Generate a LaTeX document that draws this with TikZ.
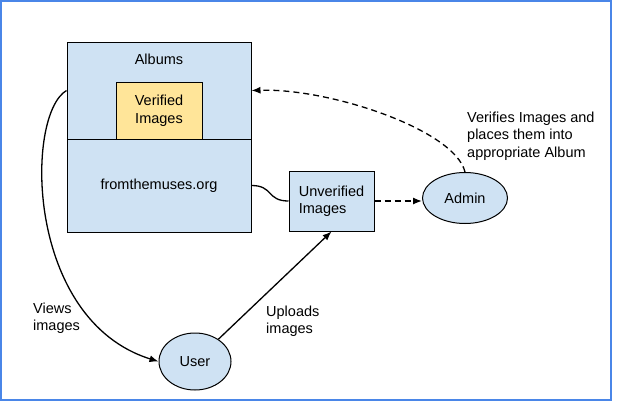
\documentclass[tikz,border=0pt]{standalone}
\usepackage{fontspec}
\setmainfont{Liberation Sans}
\usetikzlibrary{arrows.meta,shapes.geometric}
\definecolor{boxblue}{HTML}{CFE2F3}
\definecolor{boxyellow}{HTML}{FFE599}
\definecolor{frameblue}{HTML}{4A86E8}
\tikzset{
  txt/.style={font=\fontsize{14.5}{17.5}\selectfont, inner sep=0pt},
  box/.style={txt, draw=black, line width=1pt, fill=boxblue, rectangle},
  oval/.style={txt, draw=black, line width=1pt, fill=boxblue, ellipse},
  conn/.style={line width=1.3pt, black},
  arrowtip/.style={-{Latex[length=9pt,width=7pt]}},
  dashline/.style={dash pattern=on 6pt off 4pt}
}
\begin{document}
\begin{tikzpicture}[x=1pt,y=-1pt]
\useasboundingbox (0,0) rectangle (624,402);
\fill[white] (0,0) rectangle (624,402);
\draw[frameblue, line width=2pt] (1,1) rectangle (611,400);

\node[box, minimum width=184pt, minimum height=97pt] (albums) at (159,90.5) {};
\node[txt] (albumstitle) at (159,59) {Albums};
\node[box, fill=boxyellow, minimum width=86pt, minimum height=57pt, align=center] (verified) at (159,110.5) {Verified\\Images};
\node[box, minimum width=184pt, minimum height=93pt] (site) at (159,185.5) {fromthemuses.org};
\node[box, minimum width=85pt, minimum height=60pt, align=left] (unv) at (331.5,201) {Unverified\\Images};
\node[oval, minimum width=85pt, minimum height=51pt] (admin) at (465,198) {\raisebox{-2.5pt}{Admin}};
\node[oval, minimum width=72pt, minimum height=57pt] (user) at (195,361.5) {User};

\node[txt, align=left, anchor=west] (verlabel) at (467,136) {Verifies Images and\\places them into\\appropriate Album};
\node[txt, align=left, anchor=west] (viewlabel) at (33,318) {Views\\images};
\node[txt, align=left, anchor=west] (uplabel) at (266,321) {Uploads\\images};

\draw[conn] (site.east) .. controls +(22,0) and +(-22,0) .. (unv.west);
\draw[conn, dashline, arrowtip] (unv.east) -- (unv.east -| admin.west);
\draw[conn, dashline, arrowtip] (admin.north) .. controls (455,130) and (330,88) .. (albums.east);
\draw[conn, arrowtip] (albums.west) .. controls (25,115) and (25,320) .. (user.west);
\draw[conn, arrowtip] (user) -- (unv.south);
\end{tikzpicture}
\end{document}
